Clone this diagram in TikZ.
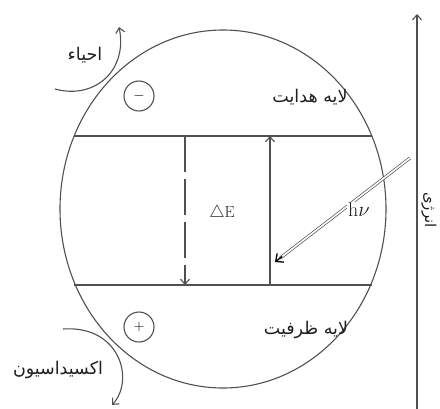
\documentclass[tikz,border=0pt]{standalone}
\usepackage{fontspec}
\usepackage{xcolor}
\usepackage{tikz}
\usetikzlibrary{positioning,arrows.meta,shapes.geometric,calc}
\TeXXeTstate=1
\newfontfamily\persian[Script=Arabic]{DejaVu Sans}
\definecolor{ink}{HTML}{505050}
\definecolor{textc}{HTML}{1E1E1E}
\tikzset{
  line/.style={draw=ink, line width=1.1pt},
  barb/.style={-{Straight Barb[length=5pt,width=9pt]}},
  fatext/.style={font=\persian\fontsize{17.5}{20}\selectfont, text=textc},
  sign/.style={circle, draw=ink, line width=1.1pt, minimum size=30pt, inner sep=0pt,
               font=\fontsize{15}{15}\selectfont},
}

\begin{document}
\begin{tikzpicture}[x=1pt, y=-1pt]
\useasboundingbox (0,0) rectangle (440,408);

\node[ellipse, line, minimum width=326pt, minimum height=358pt, inner sep=0pt] (cell) at (223,209) {};

\coordinate (cbL) at (74,136);  \coordinate (cbR) at (372,136);
\coordinate (vbL) at (74,285);  \coordinate (vbR) at (372,285);
\draw[line] (cbL) -- (cbR);
\draw[line] (vbL) -- (vbR);

\coordinate (gapT) at (185,136); \coordinate (gapB) at (185,285);
\draw[line, barb, dash pattern=on 36pt off 7pt] (gapT) -- (gapB);
\node[font=\fontsize{16}{16}\selectfont, text=textc] (dE) at (222,213) {$\triangle$E};

\coordinate (exB) at (270,285); \coordinate (exT) at (270,136);
\draw[line, barb] (exB) -- (exT);

\coordinate (hvA) at (410,158); \coordinate (hvB) at (275,262);
\draw[ink, line width=0.7pt, double, double distance=1.6pt, shorten >=6pt] (hvA) -- (hvB);
\draw[black, line width=1.3pt, -{Straight Barb[length=6pt,width=11pt]}] ($(hvB)!9pt!(hvA)$) -- (hvB);
\node[fill=white, inner sep=1pt, font=\fontsize{20}{20}\selectfont, text=textc] (hv) at (359,210) {h$\nu$};

\node[sign] (neg) at (139,96) {$-$};
\node[sign] (pos) at (139,327) {$+$};

\node[fatext] (cond) at (310,97) {\beginR لایه هدایت\endR};
\node[fatext] (val) at (306,330) {\beginR لایه ظرفیت\endR};

\coordinate (redS) at (55,89); \coordinate (redE) at (119,27);
\draw[line, barb] (redS) .. controls (95,100) and (128,70) .. (redE);
\node[fatext] (red) at (85,55) {\beginR احیاء\endR};

\coordinate (oxS) at (63,329); \coordinate (oxE) at (112,405);
\draw[line, barb] (oxS) .. controls (120,325) and (135,380) .. (oxE);
\node[fatext] (ox) at (58,370) {\beginR اکسیداسیون\endR};

\coordinate (axB) at (417,410); \coordinate (axT) at (417,14);
\draw[line, barb] (axB) -- (axT);
\node[fatext, font=\persian\fontsize{15}{17}\selectfont, rotate=-90] (energy) at (429,210) {\beginR انرژی\endR};
\end{tikzpicture}
\end{document}
